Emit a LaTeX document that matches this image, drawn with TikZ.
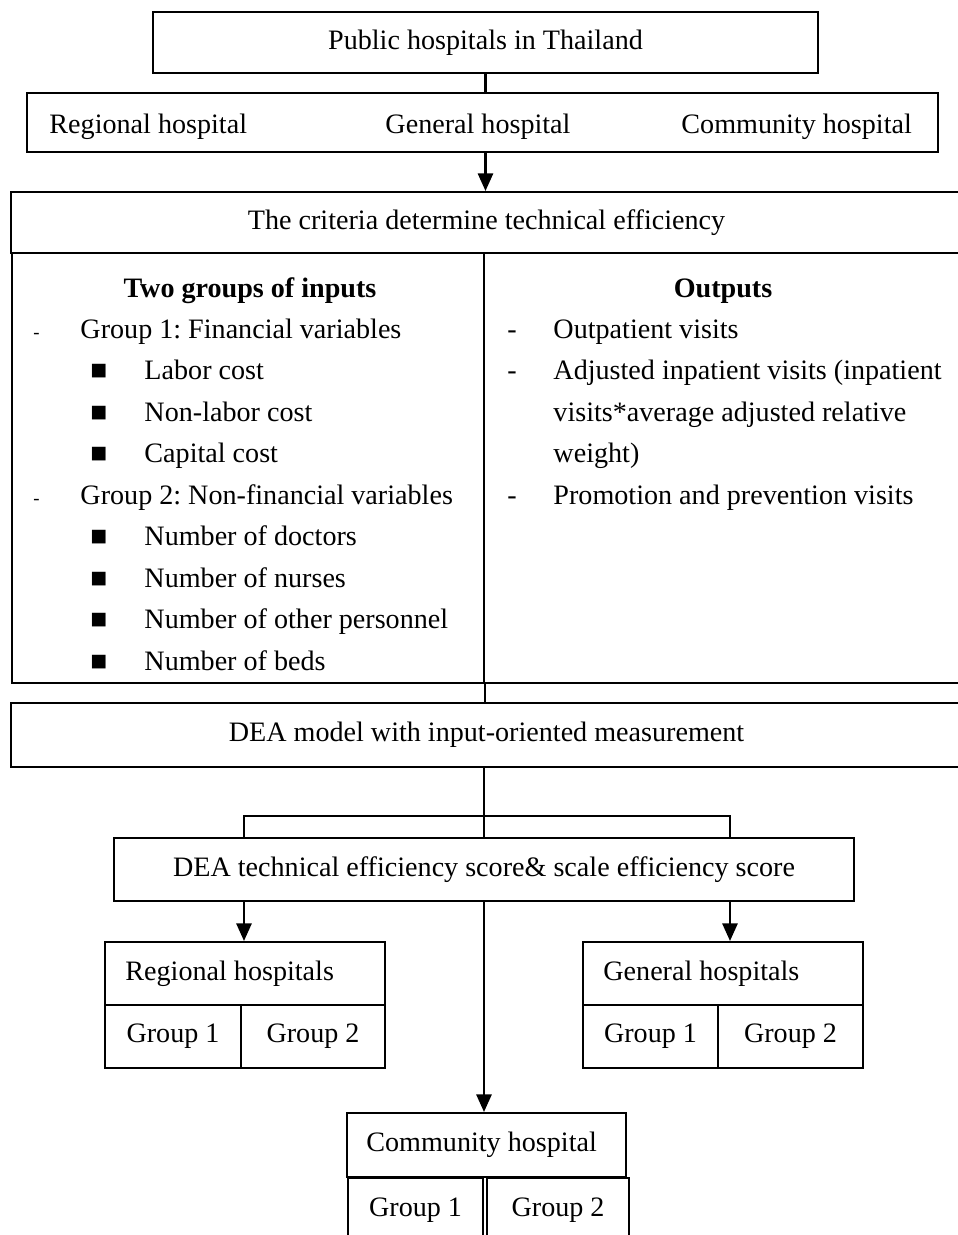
\documentclass[tikz,border=0pt]{standalone}
\usepackage{fontspec}
\setmainfont{Liberation Serif}
\usetikzlibrary{arrows.meta}
\newdimen\un \un=0.015cm
\frenchspacing
\tikzset{
  box/.style={draw,line width=0.9pt,inner sep=0pt},
  txt/.style={inner sep=0pt,anchor=base west},
  hdr/.style={inner sep=0pt,anchor=base,font=\fontsize{12}{14}\selectfont\bfseries},
  link/.style={line width=0.9pt},
  arr/.style={link,-{Triangle[length=7.5pt,width=6.5pt]}},
}
\begin{document}
\begin{tikzpicture}[x=\un,y=-\un,font=\fontsize{12}{14}\selectfont]
  \useasboundingbox (0,0) rectangle (957,1235);
  % top part
  \node[box,minimum width=665\un,minimum height=61\un] (pub) at (485.5,42.5) {Public hospitals in Thailand};
  \node[box,minimum width=911\un,minimum height=59\un] (kinds) at (482.5,122.5) {};
  \node[txt] (kreg) at (49,133) {Regional hospital};
  \node[txt] (kgen) at (385,133) {General hospital};
  \node[txt] (kcom) at (681,133) {Community hospital};
  \node[box,minimum width=951\un,minimum height=61\un] (crit) at (486.5,222.5) {The criteria determine technical efficiency};
  \draw[link](pub.south)--(pub.south |- kinds.north);
  \draw[arr](pub.south |- kinds.south)--(pub.south |- crit.north);
  % inputs and outputs
  \node[box,minimum width=472\un,minimum height=430\un] (inp) at (248,468) {};
  \node[box,minimum width=478\un,minimum height=430\un] (outp) at (723,468) {};
  \node[hdr] (inhd) at (250,297) {Two groups of inputs};
  \node[txt,font=\footnotesize] (d1) at (33,338) {-};
  \node[txt] (g1) at (80,338) {Group 1: Financial variables};
  \node[txt,font=\footnotesize] (d2) at (33,504) {-};
  \node[txt] (g2) at (80,504) {Group 2: Non-financial variables};
  \foreach \y/\t [count=\i] in {379.5/Labor cost,421/Non-labor cost,462.5/Capital cost,
      545.5/Number of doctors,587/Number of nurses,628.5/Number of other personnel,670/Number of beds}{%
    \node[txt] (sq\i) at (90,\y) {■};
    \node[txt] (it\i) at (144,\y) {\t};
  }
  \node[hdr] (outhd) at (723,297) {Outputs};
  \foreach \y/\t [count=\i] in {338/Outpatient visits,379.5/Adjusted inpatient visits (inpatient,
      421/visits*average adjusted relative,462.5/weight),504/Promotion and prevention visits}{%
    \node[txt] (ot\i) at (553,\y) {\t};
  }
  \foreach \y [count=\i] in {338,379.5,504}{%
    \node[txt] (od\i) at (507,\y) {-};
  }
  % DEA
  \node[box,minimum width=951\un,minimum height=64\un] (dea) at (486.5,735) {DEA model with input-oriented measurement};
  \draw[link](inp.south east)--(inp.south east |- dea.north);
  \coordinate (fork) at (484,816);
  \coordinate (forkL) at (244,816);
  \coordinate (forkR) at (730,816);
  \node[box,minimum width=740\un,minimum height=63\un] (score) at (484,869.5) {DEA technical efficiency score\& scale efficiency score};
  \draw[link](dea.south -| fork)--(fork)--(fork |- score.north);
  \draw[link](forkL |- score.north)--(forkL)--(forkR)--(forkR |- score.north);
  % hospital groups
  \node[box,minimum width=280\un,minimum height=63\un] (regT) at (245,973.5) {};
  \node[txt,anchor=west] (regL) at ([xshift=21\un]regT.west) {Regional hospitals};
  \node[box,minimum width=136\un,minimum height=63\un] (regA) at (173,1036.5) {Group 1};
  \node[box,minimum width=144\un,minimum height=63\un] (regB) at (313,1036.5) {Group 2};
  \node[box,minimum width=280\un,minimum height=63\un] (genT) at (723,973.5) {};
  \node[txt,anchor=west] (genL) at ([xshift=21\un]genT.west) {General hospitals};
  \node[box,minimum width=135\un,minimum height=63\un] (genA) at (650.5,1036.5) {Group 1};
  \node[box,minimum width=145\un,minimum height=63\un] (genB) at (790.5,1036.5) {Group 2};
  \node[box,minimum width=279\un,minimum height=64\un] (comT) at (486.5,1145) {};
  \node[txt,anchor=west] (comL) at ([xshift=20\un]comT.west) {Community hospital};
  \node[box,minimum width=135\un,minimum height=64\un,anchor=north west] (comA) at (347,1177) {Group 1};
  \node[box,minimum width=142\un,minimum height=64\un,anchor=north west] (comB) at (486,1177) {Group 2};
  \draw[link](comA.south west)--++(0,30);
  \draw[link](comA.south east)--++(0,30);
  \draw[link](comB.south west)--++(0,30);
  \draw[link](comB.south east)--++(0,30);
  \draw[arr](forkL |- score.south)--(forkL |- regT.north);
  \draw[arr](forkR |- score.south)--(forkR |- genT.north);
  \draw[arr](fork |- score.south)--(fork |- comT.north);
\end{tikzpicture}
\end{document}
